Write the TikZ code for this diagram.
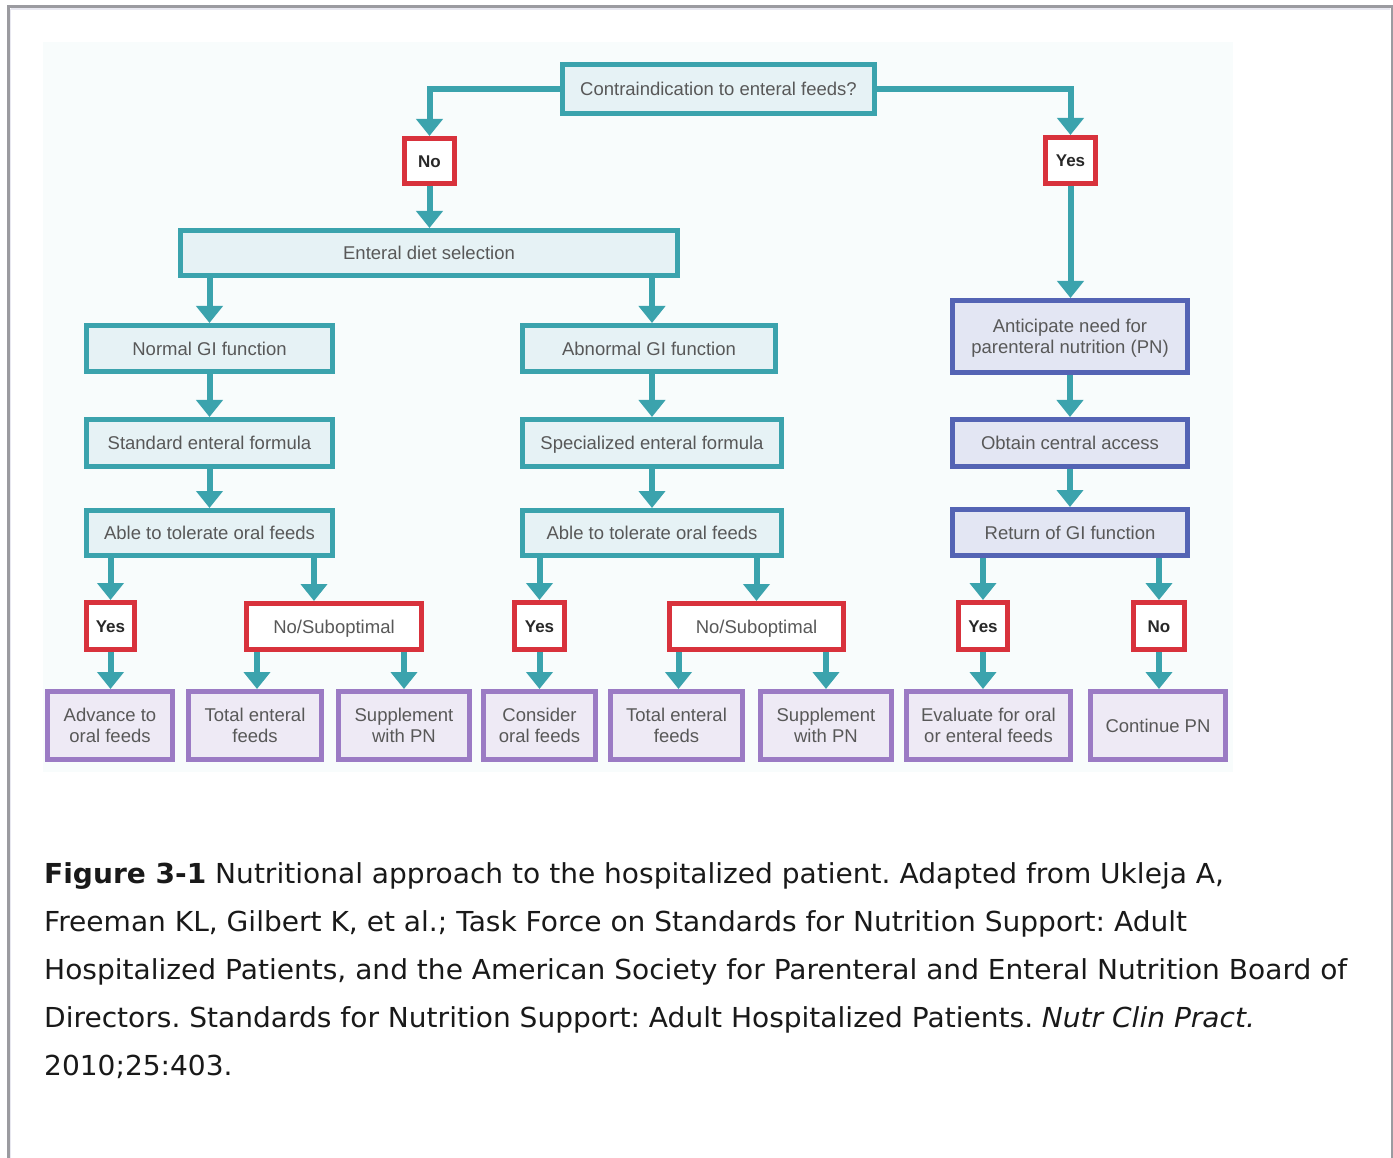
\documentclass[tikz,border=0pt]{standalone}
\usepackage{fontspec}
\setmainfont{Liberation Sans}
\newfontfamily\capfont{DejaVu Sans}[FakeStretch=1.02]
\usetikzlibrary{arrows.meta}
\frenchspacing

\definecolor{framegray}{RGB}{155,155,160}
\definecolor{framelight}{RGB}{232,232,240}
\definecolor{panelbg}{RGB}{248,252,252}
\definecolor{tealline}{RGB}{59,163,173}
\definecolor{tealfill}{RGB}{230,242,245}
\definecolor{redline}{RGB}{216,50,60}
\definecolor{blueline}{RGB}{84,100,180}
\definecolor{bluefill}{RGB}{227,230,243}
\definecolor{purpleline}{RGB}{155,123,196}
\definecolor{purplefill}{RGB}{238,234,245}
\definecolor{textgray}{RGB}{88,88,88}
\definecolor{textdark}{RGB}{40,40,40}
\definecolor{captext}{RGB}{25,25,25}

\tikzset{
  box/.style={draw, line width=5pt, inner sep=0pt, align=center,
    font=\fontsize{18.5}{21}\selectfont, text=textgray,
    text height=13.2pt, text depth=0pt},
  twolines/.style={text height=34.2pt, text depth=0pt},
  tealbox/.style={box, draw=tealline, fill=tealfill},
  bluebox/.style={box, draw=blueline, fill=bluefill},
  purplebox/.style={box, draw=purpleline, fill=purplefill,
    minimum height=68pt},
  redbox/.style={box, draw=redline, fill=white},
  answer/.style={redbox, text=textdark, font=\fontsize{17}{20}\selectfont\bfseries,
    text height=12.2pt},
  arr/.style={draw=tealline, line width=6pt,
    -{Triangle[width=26pt,length=17pt]}},
}

\begin{document}
\begin{tikzpicture}[x=1pt,y=-1pt]
\useasboundingbox (0,0) rectangle (1393,1158);
\fill[white] (0,0) rectangle (1393,1158);

% page frame
\draw[framegray, line width=2.5pt] (8.3,1158) -- (8.3,6.7) -- (1392,6.7) -- (1392,1158);
\draw[framelight, line width=2pt] (10.5,9.5) -- (1390,9.5);
\draw[framelight, line width=1.5pt] (10.5,9.5) -- (10.5,1158);

% diagram panel
\fill[panelbg] (43,42) rectangle (1233,772);

% --- decision at the top
\node[tealbox, minimum width=312pt, minimum height=49pt] (q) at (718.5,89) {Contraindication to enteral feeds?};
\node[answer, minimum width=50pt, minimum height=45pt] (no1) at (429.5,161) {No};
\node[answer, minimum width=50pt, minimum height=46pt] (yes1) at (1070.5,160.5) {Yes};

% --- enteral branch
\node[tealbox, minimum width=497pt, minimum height=45pt] (ent) at (429,253) {Enteral diet selection};
\node[tealbox, minimum width=246pt, minimum height=46pt] (norm) at (209.5,348.5) {Normal GI function};
\node[tealbox, minimum width=253pt, minimum height=46pt] (abn) at (649,348.5) {Abnormal GI function};
\node[tealbox, minimum width=246pt, minimum height=47pt] (std) at (209.5,443) {Standard enteral formula};
\node[tealbox, minimum width=259pt, minimum height=47pt] (spec) at (652,443) {Specialized enteral formula};
\node[tealbox, minimum width=246pt, minimum height=45pt] (ableL) at (209.5,533) {Able to tolerate oral feeds};
\node[tealbox, minimum width=259pt, minimum height=45pt] (ableM) at (652,533) {Able to tolerate oral feeds};

% --- parenteral branch
\node[bluebox, twolines, minimum width=235pt, minimum height=72pt] (antic) at (1070,336.5) {Anticipate need for\\parenteral nutrition (PN)};
\node[bluebox, minimum width=235pt, minimum height=47pt] (obtain) at (1070,443) {Obtain central access};
\node[bluebox, minimum width=235pt, minimum height=46pt] (ret) at (1070,532.5) {Return of GI function};

% --- answers
\node[answer, minimum width=48pt, minimum height=47pt] (yesL) at (110.5,626) {Yes};
\node[redbox, minimum width=175pt, minimum height=46pt] (nosL) at (334,626.5) {No/Suboptimal};
\node[answer, minimum width=50pt, minimum height=47pt] (yesM) at (539.5,626) {Yes};
\node[redbox, minimum width=174pt, minimum height=46pt] (nosM) at (756.5,626.5) {No/Suboptimal};
\node[answer, minimum width=49pt, minimum height=47pt] (yesR) at (983,626) {Yes};
\node[answer, minimum width=51pt, minimum height=47pt] (noR) at (1159,626) {No};

% --- outcomes
\node[purplebox, twolines, minimum width=125pt] (adv) at (110,725.5) {Advance to\\oral feeds};
\node[purplebox, twolines, minimum width=133pt] (totL) at (255,725.5) {Total enteral\\feeds};
\node[purplebox, twolines, minimum width=131pt] (supL) at (404,725.5) {Supplement\\with PN};
\node[purplebox, twolines, minimum width=112pt] (cons) at (539.5,725.5) {Consider\\oral feeds};
\node[purplebox, twolines, minimum width=132pt] (totM) at (676.5,725.5) {Total enteral\\feeds};
\node[purplebox, twolines, minimum width=131pt] (supM) at (826,725.5) {Supplement\\with PN};
\node[purplebox, twolines, minimum width=164pt] (eval) at (988.5,725.5) {Evaluate for oral\\or enteral feeds};
\node[purplebox, minimum width=135pt] (cont) at (1158,725.5) {Continue PN};

% --- connectors
\draw[arr] (q.west) -| (no1.north);
\draw[arr] (q.east) -| (yes1.north);
\draw[arr] (no1.south) -- (no1.south |- ent.north);
\draw[arr] (norm.north |- ent.south) -- (norm.north);
\draw[arr] ([xshift=3pt]abn.north |- ent.south) -- ([xshift=3pt]abn.north);
\draw[arr] (norm.south) -- (std.north);
\draw[arr] ([xshift=3pt]abn.south) -- (spec.north);
\draw[arr] (std.south) -- (ableL.north);
\draw[arr] (spec.south) -- (ableM.north);
\draw[arr] (yes1.south) -- (yes1.south |- antic.north);
\draw[arr] (antic.south) -- (obtain.north);
\draw[arr] (obtain.south) -- (ret.north);

\draw[arr] (yesL.north |- ableL.south) -- (yesL.north);
\draw[arr] ([xshift=-20pt]nosL.north |- ableL.south) -- ([xshift=-20pt]nosL.north);
\draw[arr] (yesM.north |- ableM.south) -- (yesM.north);
\draw[arr] (nosM.north |- ableM.south) -- (nosM.north);
\draw[arr] (yesR.north |- ret.south) -- (yesR.north);
\draw[arr] (noR.north |- ret.south) -- (noR.north);

\draw[arr] (yesL.south) -- (yesL.south |- adv.north);
\draw[arr] ([xshift=2pt]totL.north |- nosL.south) -- ([xshift=2pt]totL.north);
\draw[arr] (supL.north |- nosL.south) -- (supL.north);
\draw[arr] (yesM.south) -- (yesM.south |- cons.north);
\draw[arr] ([xshift=2pt]totM.north |- nosM.south) -- ([xshift=2pt]totM.north);
\draw[arr] (supM.north |- nosM.south) -- (supM.north);
\draw[arr] (yesR.south) -- (yesR.south |- eval.north);
\draw[arr] (noR.south) -- (noR.south |- cont.north);

% --- caption (anchored at the baseline of its last line)
\node[anchor=base west, align=left, inner sep=0pt, text=captext,
  font=\capfont\fontsize{27.5}{48}\selectfont] (cap) at (44,1075)
  {{\bfseries Figure 3-1} Nutritional approach to the hospitalized patient. Adapted from Ukleja A,\\
   Freeman KL, Gilbert K, et al.; Task Force on Standards for Nutrition Support: Adult\\
   Hospitalized Patients, and the American Society for Parenteral and Enteral Nutrition Board of\\
   Directors. Standards for Nutrition Support: Adult Hospitalized Patients. {\itshape Nutr Clin Pract.}\\
   2010;25:403.};
\end{tikzpicture}
\end{document}
